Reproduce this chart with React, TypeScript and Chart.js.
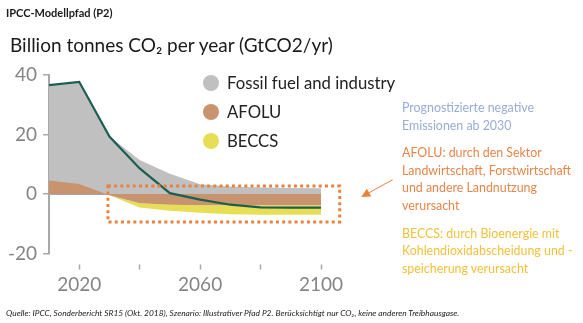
import React, { useEffect, useRef } from 'react';
import { Chart, registerables } from 'chart.js';

Chart.register(...registerables);

// ---- Data (GtCO2/yr) ----
const years = [2010, 2020, 2030, 2040, 2050, 2060, 2070, 2080, 2090, 2100];
// upper edge of the grey "Fossil fuel and industry" area
const fossilTop = [36.6, 37.7, 19.3, 11.4, 6.8, 3.3, 2.5, 2.2, 2.0, 1.9];
// AFOLU band (positive early, negative later)
const afolu = [4.5, 3.4, -0.4, -3.1, -3.6, -3.8, -3.8, -3.8, -3.8, -3.8];
// BECCS band (negative, stacked below AFOLU)
const beccs = [0, 0, 0, -1.4, -2.0, -2.5, -3.0, -3.2, -3.2, -3.2];
// net emissions line
const netEmissions = [36.6, 37.7, 19.3, 8.6, 0.3, -1.9, -3.6, -4.5, -4.6, -4.6];

const yTicks = [-20, 0, 20, 40];
const xTicks = [2020, 2040, 2060, 2080, 2100];
const xLabelledTicks = [2020, 2060, 2100];

const legendLabels = ['Fossil fuel and industry', 'AFOLU', 'BECCS'];

// highlighted region (data units) and arrow (data units)
const boxYears = [2029.5, 2106.2];
const boxValues = [2.7, -9.4];
const arrowFrom = [2123.7, 4.8];
const arrowTo = [2113.3, -1.0];

const COLORS = {
  fossil: '#c0c0c0',
  afolu: '#c8946f',
  beccs: '#e6df56',
  net: '#1d5e50',
  zero: '#5e4b3d',
  axis: '#a8a8a8',
  tickText: '#858585',
  orange: '#e8823d',
};

const legendColors = [COLORS.fossil, COLORS.afolu, COLORS.beccs];

const annotationPlugin = {
  id: 'highlightBox',
  afterDraw(chart: any) {
    const { ctx, scales } = chart;
    const xs = scales.x;
    const ys = scales.y;
    const x1 = xs.getPixelForValue(boxYears[0]);
    const x2 = xs.getPixelForValue(boxYears[1]);
    const y1 = ys.getPixelForValue(boxValues[0]);
    const y2 = ys.getPixelForValue(boxValues[1]);
    ctx.save();
    ctx.strokeStyle = COLORS.orange;
    ctx.lineWidth = 3;
    ctx.setLineDash([3, 3.2]);
    ctx.strokeRect(x1, y1, x2 - x1, y2 - y1);
    ctx.setLineDash([]);
    // arrow
    const ax1 = xs.getPixelForValue(arrowFrom[0]);
    const ay1 = ys.getPixelForValue(arrowFrom[1]);
    const ax2 = xs.getPixelForValue(arrowTo[0]);
    const ay2 = ys.getPixelForValue(arrowTo[1]);
    const ang = Math.atan2(ay2 - ay1, ax2 - ax1);
    const headLen = 9;
    const headW = 4.5;
    const bx = ax2 - headLen * Math.cos(ang);
    const by = ay2 - headLen * Math.sin(ang);
    ctx.lineWidth = 1;
    ctx.beginPath();
    ctx.moveTo(ax1, ay1);
    ctx.lineTo(bx, by);
    ctx.stroke();
    ctx.fillStyle = COLORS.orange;
    ctx.beginPath();
    ctx.moveTo(ax2, ay2);
    ctx.lineTo(bx + headW * Math.sin(ang), by - headW * Math.cos(ang));
    ctx.lineTo(bx - headW * Math.sin(ang), by + headW * Math.cos(ang));
    ctx.closePath();
    ctx.fill();
    ctx.restore();
  },
};

function ChartCanvas() {
  const ref = useRef<HTMLCanvasElement | null>(null);
  useEffect(() => {
    if (!ref.current) return;
    const pts = (arr: number[]) => years.map((x, i) => ({ x, y: arr[i] }));
    const beccsBottom = afolu.map((v, i) => v + beccs[i]);
    const chart = new Chart(ref.current, {
      type: 'line',
      data: {
        datasets: [
          {
            label: 'Net',
            data: pts(netEmissions),
            borderColor: COLORS.net,
            borderWidth: 2.2,
            pointRadius: 0,
            fill: false,
          },
          {
            label: legendLabels[1],
            data: pts(afolu),
            borderColor: 'transparent',
            backgroundColor: COLORS.afolu,
            borderWidth: 0,
            pointRadius: 0,
            fill: 'origin',
          },
          {
            label: legendLabels[2],
            data: pts(beccsBottom),
            borderColor: 'transparent',
            backgroundColor: COLORS.beccs,
            borderWidth: 0,
            pointRadius: 0,
            fill: '-1',
          },
          {
            label: legendLabels[0],
            data: pts(fossilTop),
            borderColor: 'transparent',
            backgroundColor: COLORS.fossil,
            borderWidth: 0,
            pointRadius: 0,
            fill: 'origin',
          },
        ],
      },
      options: {
        responsive: false,
        animation: false,
        events: [],
        layout: { padding: { left: 0, right: 262, top: 75, bottom: 9.5 } },
        plugins: { legend: { display: false }, tooltip: { enabled: false } },
        scales: {
          x: {
            type: 'linear',
            min: years[0],
            max: years[years.length - 1],
            border: { display: false },
            grid: {
              drawOnChartArea: false,
              color: COLORS.axis,
              tickColor: COLORS.axis,
              tickLength: 16,
              tickWidth: 1.5,
              tickBorderDash: [0, 10.5, 5, 40],
            } as any,
            afterBuildTicks: (s: any) => {
              s.ticks = xTicks.map((v) => ({ value: v }));
            },
            afterFit: (s: any) => {
              s.height = 60;
            },
            ticks: {
              padding: 4,
              color: COLORS.tickText,
              font: { family: 'Lato', size: 19 },
              maxRotation: 0,
              autoSkip: false,
              callback: (v: any) => (xLabelledTicks.includes(Number(v)) ? String(v) : ''),
            },
          },
          y: {
            min: yTicks[0],
            max: yTicks[yTicks.length - 1],
            z: 1,
            border: { display: true, color: COLORS.axis, width: 2 },
            grid: {
              drawOnChartArea: true,
              color: (c: any) => (c.tick && c.tick.value === 0 ? COLORS.zero : 'transparent'),
              lineWidth: 1.5,
              tickColor: COLORS.axis,
              tickLength: 6,
              tickWidth: 1.5,
            },
            afterBuildTicks: (s: any) => {
              s.ticks = yTicks.map((v) => ({ value: v }));
            },
            afterFit: (s: any) => {
              s.width = 49;
            },
            ticks: {
              padding: 6,
              color: COLORS.tickText,
              font: { family: 'Lato', size: 19 },
            },
          },
        },
      },
      plugins: [annotationPlugin],
    } as any);
    return () => chart.destroy();
  }, []);
  return (
    <canvas
      ref={ref}
      width={583}
      height={323}
      style={{ position: 'absolute', left: 0, top: 0, width: 583, height: 323 }}
    />
  );
}

const noteBlocks = [
  { color: '#97acd6', lines: ['Prognostizierte negative', 'Emissionen ab 2030'] },
  {
    color: '#e8854a',
    lines: ['AFOLU: durch den Sektor', 'Landwirtschaft, Forstwirtschaft', 'und andere Landnutzung', 'verursacht'],
  },
  {
    color: '#f2c13c',
    lines: ['BECCS: durch Bioenergie mit', 'Kohlendioxidabscheidung und -', 'speicherung verursacht'],
  },
];

export default function App() {
  return (
    <div
      style={{
        position: 'fixed',
        left: 0,
        top: 0,
        width: 583,
        height: 323,
        background: '#ffffff',
        fontFamily: 'Lato, sans-serif',
        overflow: 'hidden',
      }}
    >
      <ChartCanvas />
      <div
        style={{
          position: 'absolute',
          left: 6,
          top: 6,
          fontSize: 11,
          lineHeight: '14px',
          fontWeight: 700,
          color: '#1a1a1a',
          whiteSpace: 'nowrap',
        }}
      >
        IPCC-Modellpfad (P2)
      </div>
      <div
        style={{
          position: 'absolute',
          left: 10,
          top: 33,
          fontSize: 19,
          lineHeight: '24px',
          color: '#1a1a1a',
          whiteSpace: 'nowrap',
        }}
      >
        Billion tonnes CO₂ per year (GtCO2/yr)
      </div>
      {legendLabels.map((lab, i) => (
        <div
          key={lab}
          style={{
            position: 'absolute',
            left: 203,
            top: 71 + i * 29,
            height: 24,
            display: 'flex',
            alignItems: 'center',
            whiteSpace: 'nowrap',
          }}
        >
          <span
            style={{
              display: 'inline-block',
              width: 16,
              height: 16,
              borderRadius: 8,
              background: legendColors[i],
              marginRight: 8,
            }}
          />
          <span style={{ fontSize: 16.7, color: '#222222' }}>{lab}</span>
        </div>
      ))}
      <div style={{ position: 'absolute', left: 402, top: 99, whiteSpace: 'nowrap' }}>
        {noteBlocks.map((b, i) => (
          <div key={i} style={{ color: b.color, fontSize: 12.4, lineHeight: '17.6px', marginBottom: 10 }}>
            {b.lines.map((l) => (
              <div key={l}>{l}</div>
            ))}
          </div>
        ))}
      </div>
      <div
        style={{
          position: 'absolute',
          left: 6,
          top: 307,
          fontSize: 8.4,
          lineHeight: '12px',
          fontStyle: 'italic',
          color: '#222222',
          whiteSpace: 'nowrap',
        }}
      >
        Quelle: IPCC, Sonderbericht SR15 (Okt. 2018), Szenario: Illustrativer Pfad P2. Berücksichtigt nur CO₂, keine anderen Treibhausgase.
      </div>
    </div>
  );
}
